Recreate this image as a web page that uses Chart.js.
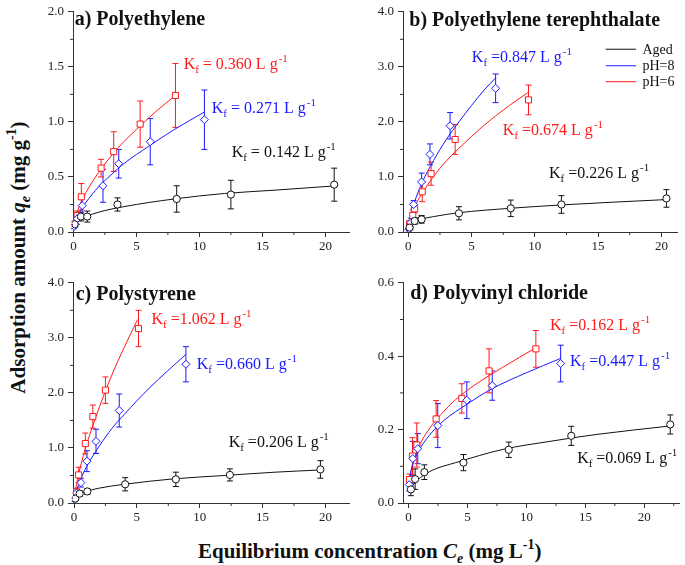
<!DOCTYPE html>
<html>
<head>
<meta charset="utf-8">
<script src="https://cdn.jsdelivr.net/npm/chart.js@4/dist/chart.umd.min.js"></script>
<style>
  body { margin: 0; background: #fff; }
  #wrap { position: relative; width: 685px; height: 565px; overflow: hidden; font-family: "Liberation Serif", serif; }
  .panel { position: absolute; }
  .axt { position: absolute; font-weight: bold; font-size: 21px; white-space: nowrap; line-height: 1; color: #111; }
  .axt sub, .axt sup { font-size: 14px; line-height: 0; position: relative; vertical-align: baseline; }
  .axt sub { top: 5px; }
  .axt sup { top: -9px; }
</style>
</head>
<body>
<div id="wrap">
  <div class="panel" style="left:40px;top:0px"><canvas id="pe" width="315" height="262"></canvas></div>
  <div class="panel" style="left:370px;top:0px"><canvas id="pet" width="313" height="262"></canvas></div>
  <div class="panel" style="left:40px;top:271px"><canvas id="ps" width="315" height="262"></canvas></div>
  <div class="panel" style="left:370px;top:271px"><canvas id="pvc" width="315" height="262"></canvas></div>
  <div class="axt" style="left:198px;top:541px">Equilibrium concentration <i>C<sub>e</sub></i> (mg L<sup>-1</sup>)</div>
  <div class="axt" style="left:-132px;top:247px;width:300px;text-align:center;transform:rotate(-90deg)">Adsorption amount <i>q<sub>e</sub></i> (mg g<sup>-1</sup>)</div>
</div>
<script>
// series order everywhere: Aged, pH=8, pH=6
const SERIES = ["Aged", "pH=8", "pH=6"];
const X_TICKS = [0, 5, 10, 15, 20];

// a) Polyethylene
const peAgedC = [0.1, 0.6, 1.1, 3.5, 8.2, 12.5, 20.7];
const peAgedQ = [0.07, 0.14, 0.14, 0.25, 0.30, 0.34, 0.43];
const peAgedE = [0.02, 0.04, 0.05, 0.06, 0.12, 0.13, 0.15];
const pePh8C = [0.05, 0.3, 0.7, 2.35, 3.6, 6.1, 10.4];
const pePh8Q = [0.05, 0.12, 0.24, 0.42, 0.62, 0.82, 1.02];
const pePh8E = [0.02, 0.05, 0.1, 0.15, 0.13, 0.21, 0.27];
const pePh6C = [0.1, 0.3, 0.63, 2.2, 3.2, 5.3, 8.1];
const pePh6Q = [0.08, 0.15, 0.32, 0.58, 0.73, 0.98, 1.24];
const pePh6E = [0.02, 0.04, 0.12, 0.08, 0.18, 0.21, 0.29];
const peFitAgedC = [0.1, 0.5, 1, 2, 4, 8, 12, 16, 20.9];
const peFitAgedQ = [0.06, 0.11, 0.14, 0.18, 0.23, 0.30, 0.35, 0.38, 0.42];
const peFitPh8C = [0.05, 0.3, 0.7, 1, 2, 3, 4, 6, 8, 10.4];
const peFitPh8Q = [0.05, 0.13, 0.22, 0.27, 0.41, 0.52, 0.62, 0.78, 0.93, 1.09];
const peFitPh6C = [0.1, 0.3, 0.6, 1, 2, 3, 4, 5, 6.5, 8.1];
const peFitPh6Q = [0.09, 0.18, 0.27, 0.36, 0.54, 0.69, 0.82, 0.93, 1.09, 1.24];
const peKf = ["0.142", "0.271", "0.360"];
const peYTicks = [0, 0.5, 1.0, 1.5, 2.0];

// b) Polyethylene terephthalate
const petAgedC = [0.1, 0.5, 1.05, 4.0, 8.1, 12.1, 20.4];
const petAgedQ = [0.08, 0.2, 0.23, 0.34, 0.43, 0.50, 0.61];
const petAgedE = [0.03, 0.06, 0.07, 0.12, 0.15, 0.16, 0.16];
const petPh8C = [0.05, 0.2, 0.42, 1.05, 1.71, 3.3, 6.9];
const petPh8Q = [0.05, 0.17, 0.5, 0.91, 1.41, 1.93, 2.61];
const petPh8E = [0.03, 0.08, 0.07, 0.16, 0.19, 0.24, 0.26];
const petPh6C = [0.1, 0.35, 0.5, 1.1, 1.8, 3.7, 9.5];
const petPh6Q = [0.15, 0.3, 0.42, 0.73, 1.06, 1.68, 2.40];
const petPh6E = [0.05, 0.1, 0.07, 0.18, 0.21, 0.27, 0.27];
const petFitAgedC = [0.05, 0.2, 0.5, 1, 2, 4, 8, 12, 16, 20.5];
const petFitAgedQ = [0.09, 0.14, 0.18, 0.23, 0.28, 0.35, 0.43, 0.49, 0.54, 0.59];
const petFitPh8C = [0.05, 0.2, 0.5, 1, 2, 3, 4, 5, 6, 6.9];
const petFitPh8Q = [0.1, 0.31, 0.55, 0.85, 1.30, 1.68, 2.0, 2.3, 2.58, 2.80];
const petFitPh6C = [0.05, 0.2, 0.5, 1, 2, 3, 4, 6, 8, 9.5];
const petFitPh6Q = [0.12, 0.26, 0.45, 0.67, 1.01, 1.29, 1.52, 1.94, 2.30, 2.54];
const petKf = ["0.226", "0.847", "0.674"];
const petYTicks = [0, 1.0, 2.0, 3.0, 4.0];

// c) Polystyrene
const psAgedC = [0.1, 0.45, 1.06, 4.07, 8.1, 12.4, 19.6];
const psAgedQ = [0.08, 0.17, 0.21, 0.34, 0.43, 0.51, 0.61];
const psAgedE = [0.03, 0.05, 0.05, 0.12, 0.13, 0.11, 0.16];
const psPh8C = [0.05, 0.2, 0.55, 1.03, 1.75, 3.6, 8.9];
const psPh8Q = [0.06, 0.18, 0.37, 0.76, 1.12, 1.68, 2.52];
const psPh8E = [0.03, 0.06, 0.08, 0.19, 0.22, 0.30, 0.32];
const psPh6C = [0.1, 0.2, 0.37, 0.9, 1.5, 2.5, 5.13];
const psPh6Q = [0.13, 0.2, 0.51, 1.08, 1.57, 2.05, 3.17];
const psPh6E = [0.05, 0.07, 0.14, 0.19, 0.21, 0.24, 0.33];
const psFitAgedC = [0.05, 0.2, 0.5, 1, 2, 4, 8, 12, 16, 19.6];
const psFitAgedQ = [0.07, 0.12, 0.16, 0.21, 0.27, 0.34, 0.44, 0.50, 0.56, 0.60];
const psFitPh8C = [0.02, 0.1, 0.3, 0.6, 1, 2, 3, 4, 6, 8.9];
const psFitPh8Q = [0.05, 0.15, 0.30, 0.47, 0.66, 1.03, 1.35, 1.61, 2.09, 2.70];
const psFitPh6C = [0.02, 0.05, 0.2, 0.5, 1, 2, 3, 4, 5.05];
const psFitPh6Q = [0.07, 0.13, 0.34, 0.65, 1.06, 1.73, 2.32, 2.83, 3.33];
const psKf = ["0.206", "0.660", "1.062"];
const psYTicks = [0, 1.0, 2.0, 3.0, 4.0];

// d) Polyvinyl chloride
const pvcAgedC = [0.2, 0.56, 1.34, 4.66, 8.5, 13.8, 22.2];
const pvcAgedQ = [0.037, 0.065, 0.084, 0.11, 0.145, 0.183, 0.214];
const pvcAgedE = [0.017, 0.028, 0.02, 0.022, 0.021, 0.026, 0.026];
const pvcPh8C = [0.06, 0.36, 0.78, 2.48, 4.94, 7.1, 12.9];
const pvcPh8Q = [0.05, 0.121, 0.148, 0.211, 0.28, 0.32, 0.38];
const pvcPh8E = [0.017, 0.047, 0.041, 0.06, 0.05, 0.04, 0.05];
const pvcPh6C = [0.08, 0.33, 0.7, 2.34, 4.52, 6.83, 10.8];
const pvcPh6Q = [0.064, 0.128, 0.158, 0.229, 0.285, 0.36, 0.42];
const pvcPh6E = [0.015, 0.05, 0.06, 0.05, 0.04, 0.06, 0.05];
const pvcFitAgedC = [0.2, 0.5, 1, 2, 4, 8, 12, 16, 22.2];
const pvcFitAgedQ = [0.039, 0.054, 0.069, 0.089, 0.11, 0.146, 0.168, 0.187, 0.21];
const pvcFitPh8C = [0.06, 0.2, 0.5, 1, 2, 3, 5, 7, 10, 12.9];
const pvcFitPh8Q = [0.05, 0.085, 0.118, 0.15, 0.193, 0.225, 0.27, 0.31, 0.355, 0.394];
const pvcFitPh6C = [0.08, 0.2, 0.5, 1, 2, 3, 4, 6, 8, 10.8];
const pvcFitPh6Q = [0.06, 0.085, 0.123, 0.162, 0.213, 0.25, 0.282, 0.33, 0.37, 0.423];
const pvcKf = ["0.069", "0.447", "0.162"];
const pvcYTicks = [0, 0.2, 0.4, 0.6];

const COLORS = ["#111111", "#1a1aff", "#ff1a1a"];
const STYLES = [
  { pointStyle: "circle", radius: 3.6 },
  { pointStyle: "rectRot", radius: 4 },
  { pointStyle: "rect", radius: 4.3 }
];
const FONT = '"Liberation Serif", serif';
Chart.defaults.font.family = FONT;
Chart.defaults.font.size = 13;
Chart.defaults.color = "#222";

const pairs = (xs, ys) => xs.map((x, i) => ({ x: x, y: ys[i] }));

// error bars, drawn under everything
const errorBars = {
  id: "errorBars",
  beforeDatasetsDraw(chart) {
    const ctx = chart.ctx, ys = chart.scales.y;
    chart.data.datasets.forEach((ds, i) => {
      if (!ds.err) return;
      const meta = chart.getDatasetMeta(i);
      ctx.save();
      ctx.strokeStyle = ds.borderColor;
      ctx.lineWidth = 1;
      meta.data.forEach((pt, j) => {
        const v = ds.data[j].y, e = ds.err[j];
        const t = ys.getPixelForValue(v + e), b = ys.getPixelForValue(v - e);
        ctx.beginPath();
        ctx.moveTo(pt.x, t); ctx.lineTo(pt.x, b);
        ctx.moveTo(pt.x - 3, t); ctx.lineTo(pt.x + 3, t);
        ctx.moveTo(pt.x - 3, b); ctx.lineTo(pt.x + 3, b);
        ctx.stroke();
      });
      ctx.restore();
    });
  }
};

// short ticks half way between the labelled ones
const minorTicks = {
  id: "minorTicks",
  afterDraw(chart) {
    const ctx = chart.ctx, area = chart.chartArea;
    ctx.save();
    ctx.strokeStyle = "#333";
    ctx.lineWidth = 1;
    ["x", "y"].forEach(k => {
      const s = chart.scales[k];
      const step = s.ticks[1].value - s.ticks[0].value;
      ctx.beginPath();
      for (let v = s.ticks[0].value - step / 2; v <= s.max; v += step) {
        if (v < s.min) continue;
        const p = s.getPixelForValue(v);
        if (k === "x") { ctx.moveTo(p, area.bottom); ctx.lineTo(p, area.bottom + 3); }
        else { ctx.moveTo(area.left, p); ctx.lineTo(area.left - 3, p); }
      }
      ctx.stroke();
    });
    ctx.restore();
  }
};

function drawKf(ctx, x, y, kf, spaced, color) {
  const size = 16;
  ctx.fillStyle = color;
  ctx.textAlign = "left";
  ctx.textBaseline = "alphabetic";
  ctx.font = size + "px " + FONT;
  ctx.fillText("K", x, y); x += ctx.measureText("K").width;
  ctx.font = "11px " + FONT;
  ctx.fillText("f", x, y + 4); x += ctx.measureText("f").width;
  const body = (spaced ? " = " : " =") + kf + " L g";
  ctx.font = size + "px " + FONT;
  ctx.fillText(body, x, y); x += ctx.measureText(body).width;
  ctx.font = "11px " + FONT;
  ctx.fillText("-1", x + 1, y - 7);
}

// panel title, K_f labels and the legend of panel b
const annot = {
  id: "annot",
  afterDraw(chart, args, o) {
    const ctx = chart.ctx, xs = chart.scales.x, ys = chart.scales.y;
    ctx.save();
    ctx.fillStyle = "#111";
    ctx.font = "bold 20px " + FONT;
    ctx.textAlign = "left";
    ctx.fillText(o.title, xs.getPixelForValue(o.titleAt[0]), ys.getPixelForValue(o.titleAt[1]));
    o.labels.forEach((pos, i) => {
      drawKf(ctx, xs.getPixelForValue(pos[0]), ys.getPixelForValue(pos[1]), o.kf[i], o.spaced, COLORS[i]);
    });
    if (o.legend) {
      const L = o.legend;
      SERIES.forEach((name, i) => {
        const yy = ys.getPixelForValue(L.rows[i]);
        ctx.strokeStyle = COLORS[i];
        ctx.lineWidth = 1;
        ctx.beginPath();
        ctx.moveTo(xs.getPixelForValue(L.x0), yy);
        ctx.lineTo(xs.getPixelForValue(L.x1), yy);
        ctx.stroke();
        ctx.fillStyle = "#111";
        ctx.font = "14px " + FONT;
        ctx.textBaseline = "middle";
        ctx.fillText(name, xs.getPixelForValue(L.xt), yy + 1);
      });
    }
    ctx.restore();
  }
};

function makePanel(id, p) {
  const datasets = [];
  for (let i = 0; i < 3; i++) {
    datasets.push({
      label: SERIES[i],
      data: pairs(p.pts[i][0], p.pts[i][1]),
      err: p.pts[i][2],
      showLine: false,
      pointStyle: STYLES[i].pointStyle,
      pointRadius: STYLES[i].radius,
      borderColor: COLORS[i],
      backgroundColor: "#ffffff",
      borderWidth: 1
    });
  }
  for (let i = 0; i < 3; i++) {
    datasets.push({
      label: SERIES[i] + " fit",
      data: pairs(p.fit[i][0], p.fit[i][1]),
      showLine: true,
      pointRadius: 0,
      borderColor: COLORS[i],
      borderWidth: 1,
      cubicInterpolationMode: "monotone"
    });
  }
  new Chart(document.getElementById(id), {
    type: "scatter",
    data: { datasets: datasets },
    options: {
      responsive: false,
      animation: false,
      layout: { padding: { top: 7, right: p.padRight, left: 0, bottom: 0 } },
      plugins: {
        legend: { display: false },
        tooltip: { enabled: false },
        annot: p.annot
      },
      scales: {
        x: {
          type: "linear",
          min: p.xMin,
          max: p.xMax,
          afterBuildTicks: s => { s.ticks = X_TICKS.map(v => ({ value: v })); },
          afterFit: s => { s.height = 30; },
          ticks: { padding: 2, color: "#222", font: { size: 13, family: FONT }, callback: v => String(v) },
          grid: { drawOnChartArea: false, tickLength: 5, color: "#333" },
          border: { color: "#333" }
        },
        y: {
          type: "linear",
          min: 0,
          max: p.yTicks[p.yTicks.length - 1],
          afterBuildTicks: s => { s.ticks = p.yTicks.map(v => ({ value: v })); },
          afterFit: s => { s.width = 33; },
          ticks: { padding: 4, color: "#222", font: { size: 13, family: FONT }, callback: v => v.toFixed(1) },
          grid: { drawOnChartArea: false, tickLength: 5, color: "#333" },
          border: { color: "#333" }
        }
      }
    },
    plugins: [errorBars, minorTicks, annot]
  });
}

makePanel("pe", {
  xMin: -0.03, xMax: 21.93, yTicks: peYTicks, padRight: 5,
  pts: [[peAgedC, peAgedQ, peAgedE], [pePh8C, pePh8Q, pePh8E], [pePh6C, pePh6Q, pePh6E]],
  fit: [[peFitAgedC, peFitAgedQ], [peFitPh8C, peFitPh8Q], [peFitPh6C, peFitPh6Q]],
  annot: { title: "a) Polyethylene", titleAt: [0.1, 1.88], kf: peKf, spaced: true,
           labels: [[12.56, 0.68], [10.98, 1.08], [8.75, 1.48]] }
});

makePanel("pet", {
  xMin: -0.42, xMax: 21.29, yTicks: petYTicks, padRight: 5,
  pts: [[petAgedC, petAgedQ, petAgedE], [petPh8C, petPh8Q, petPh8E], [petPh6C, petPh6Q, petPh6E]],
  fit: [[petFitAgedC, petFitAgedQ], [petFitPh8C, petFitPh8Q], [petFitPh6C, petFitPh6Q]],
  annot: { title: "b) Polyethylene terephthalate", titleAt: [0.08, 3.75], kf: petKf, spaced: false,
           labels: [[11.12, 0.98], [5.02, 3.08], [7.47, 1.77]],
           legend: { x0: 15.6, x1: 18.0, xt: 18.5, rows: [3.32, 3.02, 2.73] } }
});

makePanel("ps", {
  xMin: -0.08, xMax: 21.93, yTicks: psYTicks, padRight: 5,
  pts: [[psAgedC, psAgedQ, psAgedE], [psPh8C, psPh8Q, psPh8E], [psPh6C, psPh6Q, psPh6E]],
  fit: [[psFitAgedC, psFitAgedQ], [psFitPh8C, psFitPh8Q], [psFitPh6C, psFitPh6Q]],
  annot: { title: "c) Polystyrene", titleAt: [0.13, 3.69], kf: psKf, spaced: false,
           labels: [[12.3, 1.02], [9.76, 2.43], [6.16, 3.25]] }
});

makePanel("pvc", {
  xMin: -0.47, xMax: 23.0, yTicks: pvcYTicks, padRight: 2,
  pts: [[pvcAgedC, pvcAgedQ, pvcAgedE], [pvcPh8C, pvcPh8Q, pvcPh8E], [pvcPh6C, pvcPh6Q, pvcPh6E]],
  fit: [[pvcFitAgedC, pvcFitAgedQ], [pvcFitPh8C, pvcFitPh8Q], [pvcFitPh6C, pvcFitPh6Q]],
  annot: { title: "d) Polyvinyl chloride", titleAt: [0.14, 0.557], kf: pvcKf, spaced: false,
           labels: [[14.3, 0.109], [13.7, 0.374], [12.0, 0.472]] }
});
</script>
</body>
</html>
